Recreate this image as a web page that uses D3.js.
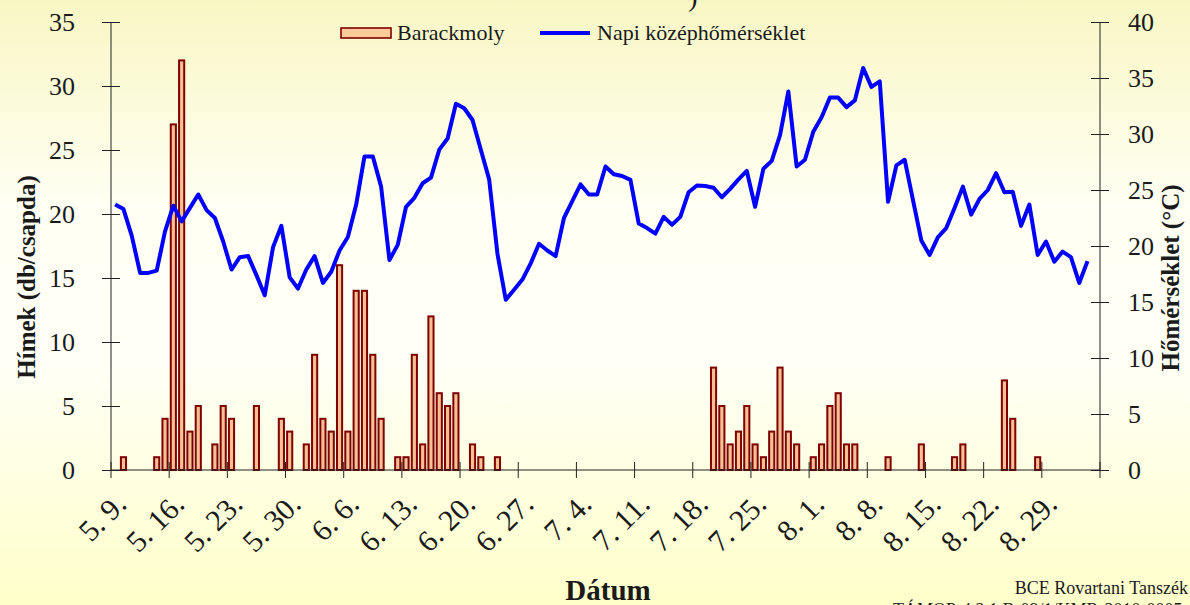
<!DOCTYPE html>
<meta charset="utf-8">
<head>
<style>
body { margin: 0; background: #ffffff; }
text { font-family: "Liberation Serif", "Times New Roman", serif; fill: #1a1a1a; }
</style>
</head>

<script src="https://d3js.org/d3.v7.min.js"></script>

<div id="chart"></div>

<script>

// days of the season, 5.9. - 9.4.
var monthLengths = [[5, 9, 31], [6, 1, 30], [7, 1, 31], [8, 1, 31], [9, 1, 4]];
var days = [];
monthLengths.forEach(function(m) {
  for (var d = m[1]; d <= m[2]; d++) days.push(m[0] + ". " + d + ".");
});

// weekly tick labels
var tickLabels = ["5. 9.", "5. 16.", "5. 23.", "5. 30.", "6. 6.", "6. 13.", "6. 20.", "6. 27.",
  "7. 4.", "7. 11.", "7. 18.", "7. 25.", "8. 1.", "8. 8.", "8. 15.", "8. 22.", "8. 29."];

// Barackmoly catches (males / trap)
var mothDays = ["5. 10.", "5. 14.", "5. 15.", "5. 16.", "5. 17.", "5. 18.", "5. 19.", "5. 21.", "5. 22.", "5. 23.",
  "5. 26.", "5. 29.", "5. 30.", "6. 1.", "6. 2.", "6. 3.", "6. 4.", "6. 5.", "6. 6.", "6. 7.", "6. 8.", "6. 9.",
  "6. 10.", "6. 12.", "6. 13.", "6. 14.", "6. 15.", "6. 16.", "6. 17.", "6. 18.", "6. 19.", "6. 21.", "6. 22.", "6. 24.",
  "7. 20.", "7. 21.", "7. 22.", "7. 23.", "7. 24.", "7. 25.", "7. 26.", "7. 27.", "7. 28.", "7. 29.", "7. 30.",
  "8. 1.", "8. 2.", "8. 3.", "8. 4.", "8. 5.", "8. 6.", "8. 10.", "8. 14.", "8. 18.", "8. 19.", "8. 24.", "8. 25.", "8. 28."];
var mothCounts = [1, 1, 4, 27, 32, 3, 5, 2, 5, 4,
  5, 4, 3, 2, 9, 4, 3, 16, 3, 14, 14, 9,
  4, 1, 1, 9, 2, 12, 6, 5, 6, 2, 1, 1,
  8, 5, 2, 3, 5, 2, 1, 3, 8, 3, 2,
  1, 2, 5, 6, 2, 2, 1, 2, 1, 2, 7, 4, 1];

// daily mean temperature from 5.9.
var temps = [23.7, 23.3, 20.9, 17.6, 17.6, 17.8, 21.3, 23.6, 22.2, 23.4,
  24.6, 23.2, 22.5, 20.4, 17.9, 19.0, 19.1, 17.4, 15.6, 19.9,
  21.8, 17.2, 16.2, 17.9, 19.1, 16.7, 17.7, 19.6, 20.8, 23.7,
  28.0, 28.0, 25.3, 18.75, 20.1, 23.5, 24.3, 25.6, 26.1, 28.6,
  29.6, 32.7, 32.3, 31.25, 28.6, 25.95, 19.3, 15.2, 16.1, 17.0,
  18.45, 20.2, 19.6, 19.1, 22.5, 24.0, 25.5, 24.6, 24.6, 27.1,
  26.4, 26.25, 25.9, 22.0, 21.6, 21.1, 22.6, 21.9, 22.6, 24.8,
  25.4, 25.35, 25.2, 24.35, 25.1, 25.95, 26.7, 23.5, 26.9, 27.6,
  29.9, 33.8, 27.1, 27.7, 30.2, 31.5, 33.25, 33.25, 32.4, 33.0,
  35.9, 34.2, 34.7, 23.95, 27.2, 27.7, 24.1, 20.5, 19.2, 20.8,
  21.6, 23.4, 25.3, 22.8, 24.2, 25.0, 26.5, 24.8, 24.85, 21.8,
  23.7, 19.2, 20.4, 18.6, 19.5, 19.0, 16.7, 18.65];

var leftTicks = [0, 5, 10, 15, 20, 25, 30, 35];
var rightTicks = [0, 5, 10, 15, 20, 25, 30, 35, 40];

var W = 1190, H = 605;
var plot = {left: 111, right: 1100, top: 22, bottom: 470};

var svg = d3.select("#chart").append("svg")
  .attr("width", W)
  .attr("height", H);

// background: pale yellow fading to white in the middle
var grad = svg.append("defs").append("linearGradient")
  .attr("id", "bg").attr("x1", 0).attr("y1", 0).attr("x2", 0).attr("y2", 1);
grad.append("stop").attr("offset", "0%").attr("stop-color", "#f8f7c4");
grad.append("stop").attr("offset", "35%").attr("stop-color", "#fffff4");
grad.append("stop").attr("offset", "60%").attr("stop-color", "#fffff6");
grad.append("stop").attr("offset", "100%").attr("stop-color", "#ffffca");
svg.append("rect").attr("width", W).attr("height", H).attr("fill", "url(#bg)");

// scales
var x = d3.scaleBand().domain(days).range([plot.left, plot.right]).paddingInner(0.38).paddingOuter(0.19);
var xTick = d3.scaleBand().domain(days).range([plot.left, plot.right]);
var yL = d3.scaleLinear().domain([0, 35]).range([plot.bottom, plot.top]);
var yR = d3.scaleLinear().domain([0, 40]).range([plot.bottom, plot.top]);

// bars
svg.append("g").selectAll("rect")
  .data(mothDays)
  .enter().append("rect")
    .attr("x", function(d) { return x(d); })
    .attr("width", x.bandwidth())
    .attr("y", function(d, i) { return yL(mothCounts[i]); })
    .attr("height", function(d, i) { return plot.bottom - yL(mothCounts[i]); })
    .attr("fill", "#f4c195")
    .attr("stroke", "#800000")
    .attr("stroke-width", 2);

// temperature line
var line = d3.line()
  .x(function(d, i) { return xTick(days[i]) + xTick.bandwidth() / 2; })
  .y(function(d) { return yR(d); });
svg.append("path")
  .datum(temps)
  .attr("d", line)
  .attr("fill", "none")
  .attr("stroke", "#0000ff")
  .attr("stroke-width", 4)
  .attr("stroke-linejoin", "round");

// left axis
var axL = svg.append("g")
  .attr("transform", "translate(" + plot.left + ",0)")
  .call(d3.axisLeft(yL).tickValues(leftTicks).tickSize(9).tickPadding(27));
axL.selectAll(".tick line").attr("x2", 9).attr("x1", -9);

// right axis
var axR = svg.append("g")
  .attr("transform", "translate(" + plot.right + ",0)")
  .call(d3.axisRight(yR).tickValues(rightTicks).tickSize(9).tickPadding(19));
axR.selectAll(".tick line").attr("x1", -9).attr("x2", 9);

// bottom axis, ticks on the start of each week
var axB = svg.append("g")
  .attr("transform", "translate(0," + plot.bottom + ")")
  .call(d3.axisBottom(xTick).tickValues(tickLabels).tickSize(8).tickFormat(function(d) { return d; }));
axB.selectAll(".tick").attr("transform", function(d) { return "translate(" + xTick(d) + ",0)"; });
axB.selectAll(".tick line").attr("y1", -8).attr("y2", 8);
axB.select(".domain").attr("d", "M" + plot.left + ",0H" + plot.right);
// closing tick at the right end
axB.append("line").attr("x1", plot.right).attr("x2", plot.right).attr("y1", -8).attr("y2", 8).attr("stroke", "#222");

[axL, axR, axB].forEach(function(a) {
  a.select(".domain").attr("stroke", "#222");
  a.selectAll(".tick line").attr("stroke", "#222");
  a.selectAll(".tick text")
    .style("font-family", "'Liberation Serif', serif")
    .style("font-size", "26px")
    .attr("fill", "#1a1a1a");
});
axB.selectAll(".tick text")
  .attr("y", 0).attr("dy", 0)
  .attr("text-anchor", "end")
  .style("font-size", "30px")
  .attr("transform", "translate(17,36) rotate(-45)");
axL.select(".domain").attr("d", "M0," + plot.bottom + "V" + plot.top);
axR.select(".domain").attr("d", "M0," + plot.bottom + "V" + plot.top);

// axis titles
svg.append("text")
  .attr("transform", "translate(35,277) rotate(-90)")
  .attr("text-anchor", "middle")
  .style("font-size", "25px").style("font-weight", "bold")
  .text("Hímek (db/csapda)");

svg.append("text")
  .attr("transform", "translate(1179,278) rotate(-90)")
  .attr("text-anchor", "middle")
  .style("font-size", "25px").style("font-weight", "bold")
  .text("Hőmérséklet (°C)");

svg.append("text")
  .attr("x", 608).attr("y", 600)
  .attr("text-anchor", "middle")
  .style("font-size", "29px").style("font-weight", "bold")
  .text("Dátum");

// clipped title and credits
svg.append("text")
  .attr("x", 693).attr("y", 6)
  .attr("text-anchor", "middle")
  .style("font-size", "28px")
  .text(")");

svg.append("text")
  .attr("x", 1188).attr("y", 594)
  .attr("text-anchor", "end")
  .style("font-size", "18px")
  .text("BCE Rovartani Tanszék");

svg.append("text")
  .attr("x", 893).attr("y", 616)
  .style("font-size", "18px")
  .text("TÁMOP-4.2.1.B-09/1/KMR-2010-0005");

// legend
var lg = svg.append("g");
lg.append("rect")
  .attr("x", 341).attr("y", 28).attr("width", 50).attr("height", 10)
  .attr("fill", "#ffcc99").attr("stroke", "#800000").attr("stroke-width", 1.6);
lg.append("text")
  .attr("x", 397).attr("y", 40)
  .style("font-size", "22px")
  .text("Barackmoly");
lg.append("line")
  .attr("x1", 540).attr("x2", 590).attr("y1", 33).attr("y2", 33)
  .attr("stroke", "#0000ff").attr("stroke-width", 4);
lg.append("text")
  .attr("x", 597).attr("y", 40)
  .style("font-size", "22px")
  .text("Napi középhőmérséklet");

</script>
